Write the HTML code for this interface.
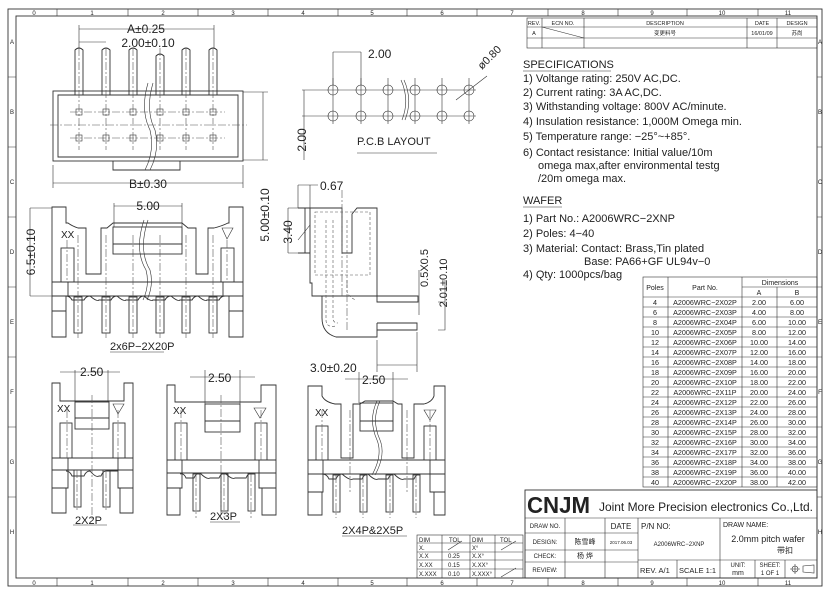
<!DOCTYPE html>
<html><head><meta charset="utf-8"><style>
html,body{margin:0;padding:0;background:#fff}
svg{display:block}
text{font-family:"Liberation Sans","Noto Sans CJK SC",sans-serif;fill:#222}
.l{stroke:#333;stroke-width:.9;fill:none}
.t{stroke:#333;stroke-width:.6;fill:none}
.c{stroke:#555;stroke-width:.6;fill:none;stroke-dasharray:8 2 2 2}
.d{stroke:#555;stroke-width:.6;fill:none;stroke-dasharray:3 2}
</style></head><body>
<svg width="830" height="591" viewBox="0 0 830 591" xmlns="http://www.w3.org/2000/svg">
<rect x="8" y="9" width="814" height="577" class="l"/>
<rect x="16" y="16" width="801" height="562" class="l"/>
<g class="t">
<path d="M57 9V16M128 9V16M198 9V16M268 9V16M338 9V16M407 9V16M477 9V16M548 9V16M618 9V16M687 9V16M758 9V16"/>
<path d="M57 578V586M128 578V586M198 578V586M268 578V586M338 578V586M407 578V586M477 578V586M548 578V586M618 578V586M687 578V586M758 578V586"/>
<path d="M8 77H16M8 147H16M8 217H16M8 287H16M8 357H16M8 427H16M8 497H16"/>
<path d="M817 77H822M817 147H822M817 217H822M817 287H822M817 357H822M817 427H822M817 497H822"/>
</g>
<g font-size="6" text-anchor="middle">
<text x="34" y="15">0</text><text x="92" y="15">1</text><text x="163" y="15">2</text><text x="233" y="15">3</text><text x="303" y="15">4</text><text x="372" y="15">5</text><text x="442" y="15">6</text><text x="512" y="15">7</text><text x="583" y="15">8</text><text x="652" y="15">9</text><text x="722" y="15">10</text><text x="788" y="15">11</text>
<text x="34" y="585">0</text><text x="92" y="585">1</text><text x="163" y="585">2</text><text x="233" y="585">3</text><text x="303" y="585">4</text><text x="372" y="585">5</text><text x="442" y="585">6</text><text x="512" y="585">7</text><text x="583" y="585">8</text><text x="652" y="585">9</text><text x="722" y="585">10</text><text x="788" y="585">11</text>
<text x="12" y="44">A</text><text x="12" y="114">B</text><text x="12" y="184">C</text><text x="12" y="254">D</text><text x="12" y="324">E</text><text x="12" y="394">F</text><text x="12" y="464">G</text><text x="12" y="534">H</text>
<text x="820" y="44">A</text><text x="820" y="114">B</text><text x="820" y="184">C</text><text x="820" y="254">D</text><text x="820" y="324">E</text><text x="820" y="394">F</text><text x="820" y="464">G</text><text x="820" y="534">H</text>
</g>

<g class="t"><rect x="527" y="18" width="290" height="30"/>
<path d="M527 27H817M527 38H817M542 18V48M584 18V48M747 18V48M777 18V48M542 27L584 38"/></g>
<g font-size="5.5" text-anchor="middle">
<text x="534" y="25">REV.</text><text x="563" y="25">ECN NO.</text><text x="665" y="25">DESCRIPTION</text><text x="762" y="25">DATE</text><text x="797" y="25">DESIGN</text>
<text x="534" y="35">A</text><text x="665" y="35">变更料号</text><text x="762" y="35">16/01/09</text><text x="797" y="35">苏尚</text>
</g>

<g font-size="11">
<text x="523" y="68">SPECIFICATIONS</text>
<text x="523" y="82">1) Voltange rating: 250V AC,DC.</text>
<text x="523" y="96">2) Current rating: 3A AC,DC.</text>
<text x="523" y="110">3) Withstanding voltage: 800V AC/minute.</text>
<text x="523" y="125">4) Insulation resistance: 1,000M Omega min.</text>
<text x="523" y="140">5) Temperature range: −25°~+85°.</text>
<text x="523" y="156">6) Contact resistance: Initial value/10m</text>
<text x="538" y="169">omega max,after environmental testg</text>
<text x="538" y="182">/20m omega max.</text>
<text x="523" y="204">WAFER</text>
<text x="523" y="222">1) Part No.: A2006WRC−2XNP</text>
<text x="523" y="237">2) Poles: 4−40</text>
<text x="523" y="252">3) Material: Contact: Brass,Tin plated</text>
<text x="584" y="265">Base: PA66+GF UL94v−0</text>
<text x="523" y="278">4) Qty: 1000pcs/bag</text>
</g>
<path class="t" d="M523 71H611M523 207H562"/>

<g class="t"><rect x="643" y="277" width="174" height="210"/>
<path d="M742 287H817M643 297H817M668 277V487M742 277V487M777 287V487"/>
<path d="M643 307H817M643 317H817M643 327H817M643 337H817M643 347H817M643 357H817M643 367H817M643 377H817M643 387H817M643 397H817M643 407H817M643 417H817M643 427H817M643 437H817M643 447H817M643 457H817M643 467H817M643 477H817"/></g>
<g font-size="7" text-anchor="middle">
<text x="655" y="290">Poles</text><text x="705" y="290">Part No.</text><text x="780" y="285">Dimensions</text><text x="759" y="295">A</text><text x="797" y="295">B</text>
</g>
<g font-size="7.2" text-anchor="middle">
<text x="655" y="305">4</text><text x="705" y="305">A2006WRC−2X02P</text><text x="759" y="305">2.00</text><text x="797" y="305">6.00</text>
<text x="655" y="315">6</text><text x="705" y="315">A2006WRC−2X03P</text><text x="759" y="315">4.00</text><text x="797" y="315">8.00</text>
<text x="655" y="325">8</text><text x="705" y="325">A2006WRC−2X04P</text><text x="759" y="325">6.00</text><text x="797" y="325">10.00</text>
<text x="655" y="335">10</text><text x="705" y="335">A2006WRC−2X05P</text><text x="759" y="335">8.00</text><text x="797" y="335">12.00</text>
<text x="655" y="345">12</text><text x="705" y="345">A2006WRC−2X06P</text><text x="759" y="345">10.00</text><text x="797" y="345">14.00</text>
<text x="655" y="355">14</text><text x="705" y="355">A2006WRC−2X07P</text><text x="759" y="355">12.00</text><text x="797" y="355">16.00</text>
<text x="655" y="365">16</text><text x="705" y="365">A2006WRC−2X08P</text><text x="759" y="365">14.00</text><text x="797" y="365">18.00</text>
<text x="655" y="375">18</text><text x="705" y="375">A2006WRC−2X09P</text><text x="759" y="375">16.00</text><text x="797" y="375">20.00</text>
<text x="655" y="385">20</text><text x="705" y="385">A2006WRC−2X10P</text><text x="759" y="385">18.00</text><text x="797" y="385">22.00</text>
<text x="655" y="395">22</text><text x="705" y="395">A2006WRC−2X11P</text><text x="759" y="395">20.00</text><text x="797" y="395">24.00</text>
<text x="655" y="405">24</text><text x="705" y="405">A2006WRC−2X12P</text><text x="759" y="405">22.00</text><text x="797" y="405">26.00</text>
<text x="655" y="415">26</text><text x="705" y="415">A2006WRC−2X13P</text><text x="759" y="415">24.00</text><text x="797" y="415">28.00</text>
<text x="655" y="425">28</text><text x="705" y="425">A2006WRC−2X14P</text><text x="759" y="425">26.00</text><text x="797" y="425">30.00</text>
<text x="655" y="435">30</text><text x="705" y="435">A2006WRC−2X15P</text><text x="759" y="435">28.00</text><text x="797" y="435">32.00</text>
<text x="655" y="445">32</text><text x="705" y="445">A2006WRC−2X16P</text><text x="759" y="445">30.00</text><text x="797" y="445">34.00</text>
<text x="655" y="455">34</text><text x="705" y="455">A2006WRC−2X17P</text><text x="759" y="455">32.00</text><text x="797" y="455">36.00</text>
<text x="655" y="465">36</text><text x="705" y="465">A2006WRC−2X18P</text><text x="759" y="465">34.00</text><text x="797" y="465">38.00</text>
<text x="655" y="475">38</text><text x="705" y="475">A2006WRC−2X19P</text><text x="759" y="475">36.00</text><text x="797" y="475">40.00</text>
<text x="655" y="485">40</text><text x="705" y="485">A2006WRC−2X20P</text><text x="759" y="485">38.00</text><text x="797" y="485">42.00</text>
</g>

<g class="l"><rect x="525" y="490" width="292" height="88"/></g>
<g class="t"><path d="M525 518H817M525 533H638M525 550H638M525 562H638M565 518V578M605 518V578M638 518V578M720 518V578M638 560H817M677 560V578M755 560V578M785 560V578"/></g>
<text x="527" y="513" font-size="23" font-weight="bold" textLength="63" lengthAdjust="spacingAndGlyphs">CNJM</text>
<text x="599" y="511" font-size="12" textLength="214" lengthAdjust="spacingAndGlyphs">Joint More Precision electronics Co.,Ltd.</text>
<g font-size="6" text-anchor="middle">
<text x="545" y="528">DRAW NO.</text><text x="545" y="544">DESIGN:</text><text x="545" y="558">CHECK:</text><text x="545" y="572">REVIEW:</text>
<text x="585" y="544" font-size="7">陈雪峰</text><text x="585" y="558" font-size="7">杨 烨</text>
<text x="621" y="544" font-size="4.5">2017.06.03</text>
<text x="679" y="546">A2006WRC−2XNP</text>
<text x="738" y="567">UNIT:</text><text x="738" y="575" font-size="7">mm</text>
<text x="770" y="567">SHEET:</text><text x="770" y="575">1 OF 1</text>
</g>
<text x="621" y="529" font-size="8" text-anchor="middle">DATE</text>
<text x="641" y="529" font-size="8">P/N NO:</text>
<text x="723" y="527" font-size="7">DRAW NAME:</text>
<text x="768" y="542" font-size="9" text-anchor="middle">2.0mm pitch wafer</text>
<text x="785" y="553" font-size="8" text-anchor="middle">带扣</text>
<text x="640" y="573" font-size="7.5">REV. A/1</text>
<text x="679" y="573" font-size="7.5">SCALE 1:1</text>
<g class="t"><circle cx="795" cy="569" r="3"/><path d="M790 569H800M795 564V574M803 566L814 565V573L803 572Z"/></g>

<g class="t"><rect x="417" y="535" width="106" height="43"/>
<path d="M417 543H523M417 552H523M417 560H523M417 569H523M442 535V578M470 535V578M495 535V578M448 550L462 541M501 550L516 541M501 577L516 568"/></g>
<g font-size="6">
<text x="419" y="542">DIM</text><text x="449" y="542">TOL</text><text x="472" y="542">DIM</text><text x="500" y="542">TOL</text>
<text x="419" y="550">X.</text><text x="472" y="550">X°</text>
<text x="419" y="558">X.X</text><text x="448" y="558">0.25</text><text x="472" y="558">X.X°</text>
<text x="419" y="567">X.XX</text><text x="448" y="567">0.15</text><text x="472" y="567">X.XX°</text>
<text x="419" y="576">X.XXX</text><text x="448" y="576">0.10</text><text x="472" y="576">X.XXX°</text>
</g>

<!-- TOP LEFT VIEW -->
<g class="l">
<rect x="53" y="91" width="190" height="70"/>
<path d="M58 95H238V157H58Z"/>
<path d="M113 161V170H180V161"/>
<path d="M75 95V50Q79 46 83 50V95M102 95V50Q106 46 110 50V95M129 95V50Q133 46 137 50V95M156 95V56Q160 52 164 56V95M182 95V50Q186 46 190 50V95M209 95V50Q213 46 217 50V95"/>
</g>
<g class="t">
<rect x="76" y="109" width="6" height="6"/><rect x="103" y="109" width="6" height="6"/><rect x="130" y="109" width="6" height="6"/><rect x="157" y="109" width="6" height="6"/><rect x="183" y="109" width="6" height="6"/><rect x="210" y="109" width="6" height="6"/>
<rect x="76" y="135" width="6" height="6"/><rect x="103" y="135" width="6" height="6"/><rect x="130" y="135" width="6" height="6"/><rect x="157" y="135" width="6" height="6"/><rect x="183" y="135" width="6" height="6"/><rect x="210" y="135" width="6" height="6"/>
<path d="M148 83Q140 110 150 130Q155 150 145 170M153 83Q145 110 155 130Q160 150 150 170"/>
<path d="M79 25V48M214 25V48M79 29H214M79 42H106M53 165V188M243 165V188M53 183H243M243 92H268M243 160H268M263 92V160"/>
</g>
<g class="c"><path d="M70 112H225M70 138H225M50 125H247M79 48V150M106 48V150M133 48V150M160 48V150M186 48V150M213 48V150"/></g>
<g font-size="12" text-anchor="middle">
<text x="146" y="33">A±0.25</text>
<text x="148" y="47">2.00±0.10</text>
<text x="148" y="188">B±0.30</text>
<text transform="translate(269 215) rotate(-90)" text-anchor="middle">5.00±0.10</text>
</g>

<!-- PCB layout -->
<g class="t">
<circle cx="333" cy="90" r="5"/><circle cx="361" cy="90" r="5"/><circle cx="388" cy="90" r="5"/><circle cx="415" cy="90" r="5"/><circle cx="442" cy="90" r="5"/><circle cx="469" cy="90" r="5"/>
<circle cx="333" cy="116" r="5"/><circle cx="361" cy="116" r="5"/><circle cx="388" cy="116" r="5"/><circle cx="415" cy="116" r="5"/><circle cx="442" cy="116" r="5"/><circle cx="469" cy="116" r="5"/>
<path d="M302 90H476M302 116H476M333 78V124M361 78V124M388 78V124M415 78V124M442 78V124M469 78V124"/>
<path d="M333 52V85M361 52V85M333 52H361M304 90V160M456 100L487 76M401 80Q410 100 402 120M404 80Q413 100 405 120"/>
<path d="M357 153H437"/>
</g>
<text x="368" y="58" font-size="12">2.00</text>
<text x="357" y="145" font-size="11">P.C.B LAYOUT</text>
<text transform="translate(482 70) rotate(-45)" font-size="11">ø0.80</text>
<text transform="translate(306 140) rotate(-90)" font-size="12" text-anchor="middle">2.00</text>

<!-- FRONT VIEW -->
<g class="l">
<path d="M52 207H66V223H68Q72 226 78 228H86V274H101V228H107L113 223H182L188 228H196V274H208V228H214Q222 226 228 223H229V207H243V337H229V296H223V282H68V296H66V337H52Z"/>
<path d="M52 282H243M52 296H243"/>
<rect x="113" y="227" width="69" height="27"/><path d="M113 244H182"/>
<rect x="61" y="248" width="13" height="34"/><rect x="221" y="248" width="13" height="34"/>
<path d="M52 311H66M229 311H243"/>
<path d="M66 296Q70 296 72 300H84Q86 296 90 296Q97 302 99 300H111Q113 296 117 296Q124 302 126 300H138Q140 296 144 296Q151 302 153 300H165Q167 296 171 296Q178 302 180 300H192Q194 296 198 296Q205 302 207 300H219Q221 296 225 296H229"/>
<rect x="74" y="297" width="8" height="36"/><rect x="102" y="297" width="8" height="36"/><rect x="129" y="297" width="8" height="36"/><rect x="156" y="297" width="8" height="36"/><rect x="182" y="297" width="8" height="36"/><rect x="209" y="297" width="8" height="36"/>
</g>
<g class="t">
<path d="M144 220Q134 250 146 270Q150 285 143 300M148 220Q138 250 150 270Q154 285 147 300"/>
<path d="M114 203V227M182 203V227M114 206H182M30 208H52M30 296H52M30 208V296"/>
<path d="M222 228H233L227 239Z"/>
<path d="M110 352H164"/>
</g>
<g class="c"><path d="M78 235V338M106 235V338M133 235V338M160 235V338M186 235V338M213 235V338M67 240V282M227 240V282"/></g>
<text x="148" y="210" font-size="12" text-anchor="middle">5.00</text>
<text x="61" y="238" font-size="10">XX</text>
<text transform="translate(35 252) rotate(-90)" font-size="12" text-anchor="middle">6.5±0.10</text>
<text x="110" y="350" font-size="11">2x6P−2X20P</text>

<!-- SIDE VIEW -->
<g class="l">
<path d="M310 208H342V253H352V214L357 208H377V296"/>
<path d="M310 208V283H312V296H377"/>
<path d="M298 208H310M298 253H310M305 208V253"/>
<path d="M322 296V318Q322 333 336 337H377V330"/>
<path d="M377 296V302H418V296H377M377 323H417V330H377V323"/>
</g>
<g class="d"><path d="M315 212H370V275H315Z"/>
<path d="M326 220V320Q326 328 336 326M333 220V318Q333 323 338 323M347 220V292Q350 298 356 300"/></g>
<g class="c"><path d="M342 190V296M347 280V330"/></g>
<g class="t"><path d="M298 185V208M310 185V208M298 185H318M288 208H298M288 253H298M288 208V253M298 240L310 225"/>
<path d="M419 270V315M438 302H445V330H438M445 280V330M377 340V372M417 332V372M377 365H417"/></g>
<text x="320" y="190" font-size="12">0.67</text>
<text transform="translate(292 232) rotate(-90)" font-size="12" text-anchor="middle">3.40</text>
<text transform="translate(428 268) rotate(-90)" font-size="11" text-anchor="middle">0.5X0.5</text>
<text transform="translate(447 283) rotate(-90)" font-size="11" text-anchor="middle">2.01±0.10</text>
<text x="310" y="372" font-size="12">3.0±0.20</text>

<!-- 2X2P -->
<g class="l">
<path d="M52 383H60V401H124V383H133V513H120V488H118V458H68V488H66V513H52Z"/>
<path d="M52 458H133M52 470H133"/>
<rect x="75" y="402" width="34" height="27"/><path d="M75 418H109"/>
<rect x="60" y="423" width="12" height="35"/><rect x="113" y="423" width="12" height="35"/>
<path d="M52 488H66M120 488H133"/>
<rect x="74" y="470" width="7" height="37"/><rect x="103" y="470" width="7" height="37"/>
<path d="M66 471Q70 471 72 476H84Q86 471 90 471Q96 478 99 476H101Q103 471 106 471H118"/>
</g>
<g class="t"><path d="M75 370V402M108 370V402M60 372H120M113 404H124L118 414Z M73 525H107"/></g>
<g class="c"><path d="M92 395V520M67 410V458M118 410V458M77 470V512M106 470V512"/></g>
<text x="80" y="376" font-size="12">2.50</text>
<text x="57" y="412" font-size="10">XX</text>
<text x="75" y="524" font-size="11">2X2P</text>

<!-- 2X3P -->
<g class="l">
<path d="M167 385H175V402H261V385H276V515H262V488H259V460H182V488H180V515H167Z"/>
<path d="M167 460H276M167 473H276"/>
<rect x="205" y="404" width="35" height="28"/><path d="M205 421H240"/>
<rect x="175" y="423" width="12" height="37"/><rect x="255" y="423" width="12" height="37"/>
<path d="M167 488H180M262 488H276"/>
<rect x="193" y="474" width="7" height="37"/><rect x="221" y="474" width="7" height="37"/><rect x="248" y="474" width="7" height="37"/>
<path d="M180 474Q184 473 186 478H194Q196 473 200 473Q207 480 210 478H219Q221 473 225 473Q232 480 235 478H246Q248 473 252 473H262"/>
</g>
<g class="t"><path d="M205 370V404M240 370V404M190 377H255M254 408H266L260 418Z M210 522H240"/></g>
<g class="c"><path d="M221 395V520M181 410V460M261 410V460M196 474V518M224 474V518M251 474V518"/></g>
<text x="208" y="382" font-size="12">2.50</text>
<text x="173" y="414" font-size="10">XX</text>
<text x="210" y="520" font-size="11">2X3P</text>

<!-- 2X4P -->
<g class="l">
<path d="M308 386H322V396Q325 402 335 404H341V458H353V404H360L365 401H393L398 404H402V458H414V404H424Q432 402 434 396V386H445V515H434V492H430V460H323V492H322V515H308Z"/>
<path d="M308 460H445M308 474H445"/>
<rect x="360" y="403" width="33" height="28"/><path d="M360 421H393"/>
<rect x="316" y="426" width="12" height="34"/><rect x="424" y="426" width="12" height="34"/>
<path d="M308 492H322M434 492H445"/>
<rect x="333" y="475" width="7" height="37"/><rect x="360" y="475" width="7" height="37"/><rect x="386" y="475" width="7" height="37"/><rect x="413" y="475" width="7" height="37"/>
<path d="M322 474Q327 474 329 479H336Q338 474 342 474Q350 481 353 479H362Q364 474 368 474Q375 481 378 479H388Q390 474 394 474Q401 481 404 479H414Q416 474 420 474H434"/>
</g>
<g class="t"><path d="M377 401Q368 420 377 440Q383 455 372 475M380 401Q371 420 380 440Q386 455 375 475"/>
<path d="M359 372V403M393 372V403M345 379H408M424 410H436L430 420Z M342 536H407"/></g>
<g class="c"><path d="M322 410V460M430 410V460M350 410V492M407 410V492M336 475V518M363 475V518M390 475V518M416 475V518"/></g>
<text x="362" y="384" font-size="12">2.50</text>
<text x="315" y="416" font-size="10">XX</text>
<text x="342" y="534" font-size="11">2X4P&amp;2X5P</text>
</svg>
</body></html>
